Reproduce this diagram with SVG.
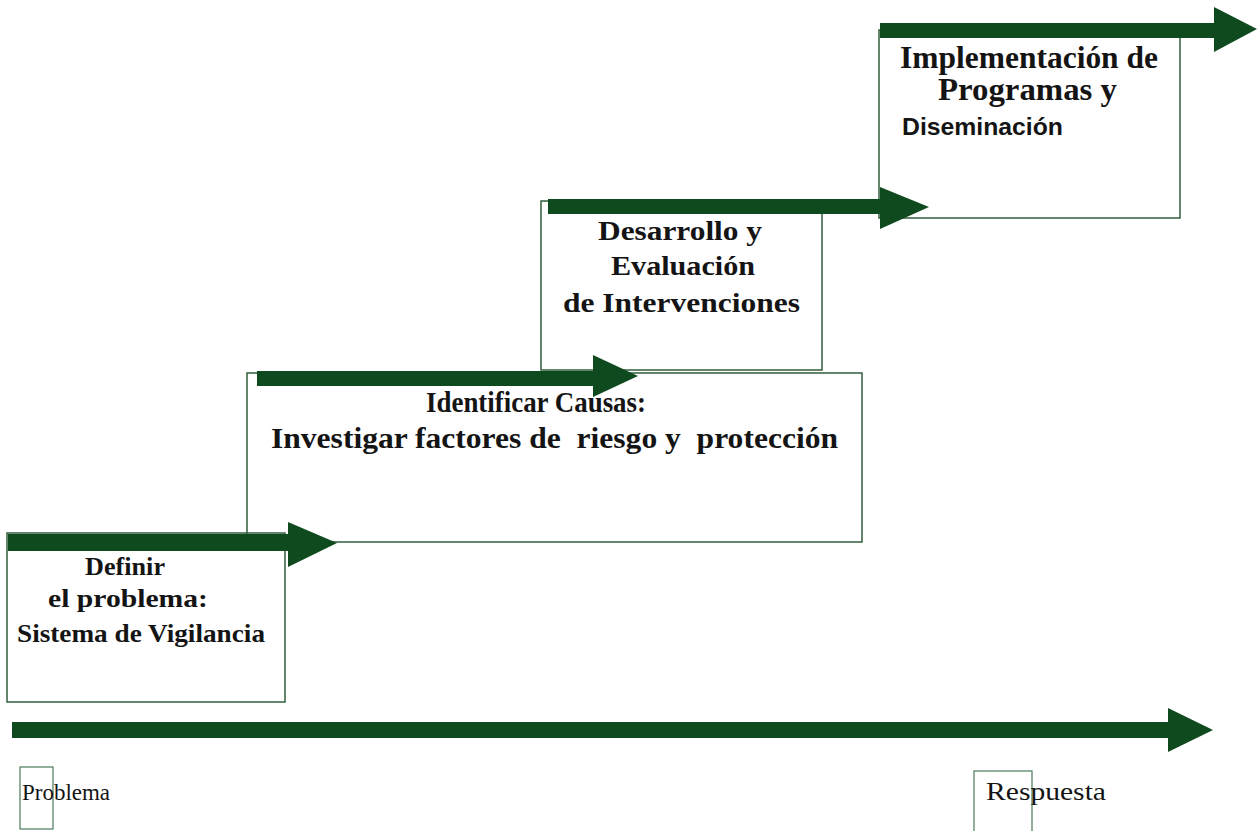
<svg xmlns="http://www.w3.org/2000/svg" width="1257" height="831" viewBox="0 0 1257 831">
<style>
.box{fill:none;stroke:#2f5e3c;stroke-width:1.5}
.arr{fill:#0f4a1f}
.t{font-family:"Liberation Serif","Times New Roman",serif;font-weight:bold;fill:#141414}
.s{font-family:"Liberation Sans",Arial,sans-serif;fill:#141414}
.r{font-family:"Liberation Serif","Times New Roman",serif;fill:#141414}
.lab{fill:none;stroke:#4a7a5a;stroke-width:1.2}
</style>
<rect width="1257" height="831" fill="#ffffff"/>
<g id="box1">
<rect class="box" x="7" y="533" width="278" height="169"/>
<text class="t" x="85" y="575" font-size="26" textLength="80" lengthAdjust="spacingAndGlyphs">Definir</text>
<text class="t" x="48" y="607" font-size="26" textLength="160" lengthAdjust="spacingAndGlyphs">el problema:</text>
<text class="t" x="17" y="642" font-size="26" textLength="248" lengthAdjust="spacingAndGlyphs">Sistema de Vigilancia</text>
</g>
<g id="box2">
<rect class="box" x="247" y="373" width="615" height="169"/>
<text class="t" x="426" y="412" font-size="29" textLength="220" lengthAdjust="spacingAndGlyphs">Identificar Causas:</text>
<text class="t" x="271" y="448" font-size="29" textLength="567" lengthAdjust="spacingAndGlyphs" xml:space="preserve">Investigar factores de  riesgo y  protección</text>
</g>
<g id="box3">
<rect class="box" x="541" y="201" width="281" height="169"/>
<text class="t" x="598" y="240" font-size="28" textLength="164" lengthAdjust="spacingAndGlyphs">Desarrollo y</text>
<text class="t" x="611" y="275" font-size="28" textLength="144" lengthAdjust="spacingAndGlyphs">Evaluación</text>
<text class="t" x="563" y="312" font-size="28" textLength="237" lengthAdjust="spacingAndGlyphs">de Intervenciones</text>
</g>
<g id="box4">
<rect class="box" x="879" y="30" width="301" height="188"/>
<text class="t" x="900" y="68" font-size="31" textLength="258" lengthAdjust="spacingAndGlyphs">Implementación de</text>
<text class="t" x="938" y="100" font-size="31" textLength="179" lengthAdjust="spacingAndGlyphs">Programas y</text>
<text class="s" x="902" y="135" font-size="24" font-weight="bold" textLength="161" lengthAdjust="spacingAndGlyphs">Diseminación</text>
</g>
<g id="labels">
<rect class="lab" x="20" y="767" width="33" height="62"/>
<text class="r" x="22" y="800" font-size="24" textLength="88" lengthAdjust="spacingAndGlyphs">Problema</text>
<rect class="lab" x="974" y="771" width="58" height="62"/>
<text class="r" x="986" y="800" font-size="26" textLength="120" lengthAdjust="spacingAndGlyphs">Respuesta</text>
</g>
<g id="connectors">
<rect class="arr" x="8" y="534" width="284" height="17"/>
<polygon class="arr" points="288,522 337,543 288,567"/>
<rect class="arr" x="257" y="371" width="338" height="15"/>
<polygon class="arr" points="593,355 638,376 593,397"/>
<rect class="arr" x="548" y="199" width="334" height="15"/>
<polygon class="arr" points="880,187 929,207 880,229"/>
<rect class="arr" x="880" y="23" width="336" height="15"/>
<polygon class="arr" points="1214,7 1257,29 1214,52"/>
<rect class="arr" x="12" y="722" width="1158" height="16"/>
<polygon class="arr" points="1168,708 1213,730 1168,752"/>
</g>
</svg>
